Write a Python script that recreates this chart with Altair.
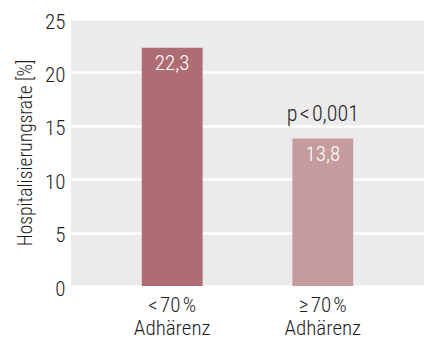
import altair as alt
import pandas as pd

categories = ["<\u200a70\u200a%\nAdhärenz", "≥\u200a70\u200a%\nAdhärenz"]
values = [22.3, 13.8]
value_labels = ["22,3", "13,8"]
bar_colors = ["#AD6D72", "#C59C9D"]
annotation_text = ["p\u200a<\u200a0,001"]
annotation_category = [categories[1]]
annotation_value = [values[1]]

FONT = "Roboto Condensed, Liberation Sans Narrow, DejaVu Sans Condensed, sans-serif"
W = 300

df = pd.DataFrame({"cat": categories, "val": values, "lab": value_labels})
ann = pd.DataFrame({"cat": annotation_category, "val": annotation_value, "txt": annotation_text})

x_enc = alt.X(
    "cat:N",
    sort=None,
    title=None,
    scale=alt.Scale(paddingInner=0.596, paddingOuter=0.47),
    axis=alt.Axis(
        labelAngle=0,
        labelExpr="split(datum.label, '\\n')",
        labelFontSize=21,
        labelLineHeight=23,
        labelPadding=8,
        labelColor="#1e1e1e",
        labelFont=FONT,
        labelFontWeight=W,
        domain=False,
        ticks=False,
    ),
)

y_enc = alt.Y(
    "val:Q",
    title="Hospitalisierungsrate [%]",
    scale=alt.Scale(domain=[0, 25], nice=False, zero=True, padding=0),
    axis=alt.Axis(
        values=[0, 5, 10, 15, 20, 25],
        domain=False,
        ticks=False,
        grid=True,
        gridColor="white",
        gridWidth=2.5,
        labelFontSize=21,
        labelColor="#1e1e1e",
        labelFont=FONT,
        labelFontWeight=W,
        labelPadding=6,
        labelOffset=3,
        titleFontSize=19.5,
        titleFontWeight=W,
        titleColor="#1e1e1e",
        titleFont=FONT,
        titlePadding=9,
    ),
)

bars = alt.Chart(df).mark_bar().encode(
    x=x_enc,
    y=y_enc,
    color=alt.Color("cat:N", sort=None, scale=alt.Scale(domain=categories, range=bar_colors), legend=None),
)

labels = alt.Chart(df).mark_text(
    baseline="top", dy=5, color="white", fontSize=21, font=FONT, fontWeight=W
).encode(x=alt.X("cat:N", sort=None), y="val:Q", text="lab:N")

annot = alt.Chart(ann).mark_text(
    baseline="alphabetic", dy=-18, color="#1e1e1e", fontSize=22, font=FONT, fontWeight=W
).encode(x=alt.X("cat:N", sort=None), y="val:Q", text="txt:N")

chart = (
    alt.layer(bars, labels, annot)
    .properties(
        width=353,
        height=267,
        autosize=alt.AutoSizeParams(type="none"),
        padding={"left": 71, "top": 19, "right": 0, "bottom": 54},
        background="white",
    )
    .configure_view(fill="#EBEBEB", stroke=None)
)

chart.save("out.html", embed_options={"renderer": "svg", "actions": False})
